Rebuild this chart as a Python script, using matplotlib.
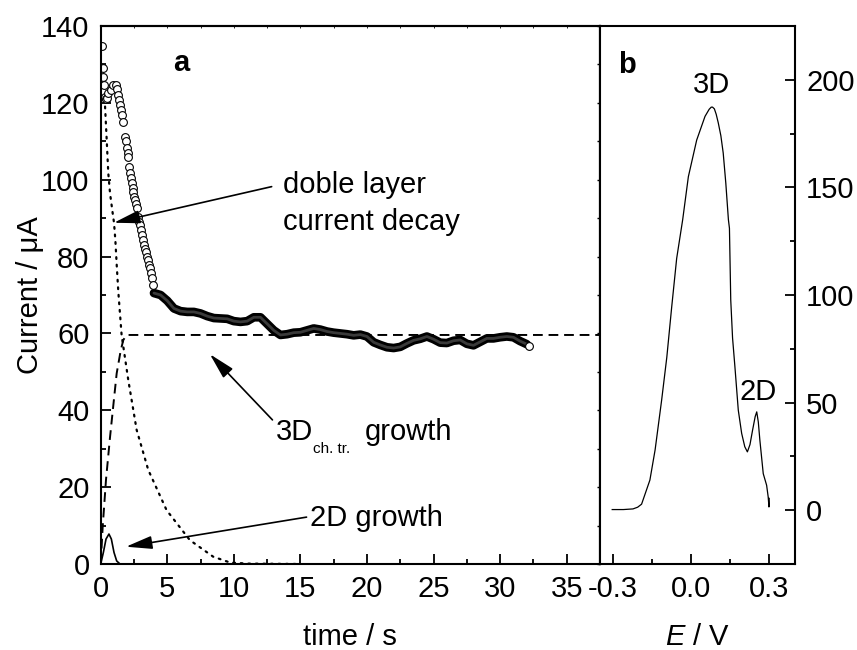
import matplotlib
matplotlib.use('Agg')
import matplotlib.pyplot as plt
from matplotlib.ticker import MultipleLocator, FixedLocator

plt.rcParams['font.family'] = ['Liberation Sans', 'DejaVu Sans']
plt.rcParams['axes.unicode_minus'] = False
plt.rcParams['mathtext.fontset'] = 'custom'
plt.rcParams['mathtext.it'] = 'Liberation Sans:italic'
plt.rcParams['mathtext.rm'] = 'Liberation Sans'
FS = 21

# ---------------- panel a data ----------------
# early (sparse) transient points, open circles
t_sparse = [0.08, 0.15, 0.2, 0.25, 0.32, 0.4, 0.5, 0.57, 0.75, 0.95, 1.15, 1.25, 1.32, 1.4,
            1.45, 1.52, 1.57, 1.65, 1.82, 1.87, 1.95, 2.02, 2.07, 2.15, 2.2, 2.27, 2.33,
            2.4, 2.45, 2.53, 2.58, 2.65, 2.75, 2.83, 2.9, 2.95, 3.03, 3.13, 3.2, 3.28,
            3.33, 3.4, 3.5, 3.57, 3.65, 3.7, 3.78, 3.83, 3.9]
i_sparse = [134.9, 129, 126.6, 124.6, 121.6, 121, 121.2, 122.5, 123.3, 124.6, 124.6, 123.5,
            122, 120.7, 119.4, 118.1, 116.8, 115.1, 111.2, 110, 108.2, 106.9, 106, 103.4,
            101.7, 100.4, 99.1, 97.8, 96.7, 95.6, 94.8, 93.7, 92.6, 90.4, 89.1, 88.2, 86.9,
            85.6, 84.3, 83, 82.1, 81.3, 80, 79.1, 77.8, 76.9, 75.6, 74.3, 72.6]
# dense part of the transient (markers overlap into a band)
t_dense = [4.0, 4.5, 5.0, 5.5, 6.0, 6.5, 7.0, 7.5, 8.0, 8.5, 9.0, 9.5, 10.0, 10.5, 11.0,
           11.5, 12.0, 12.5, 13.0, 13.5, 14.0, 14.5, 15.0, 15.5, 16.0, 16.5, 17.0, 17.5,
           18.0, 18.5, 19.0, 19.5, 20.0, 20.5, 21.0, 21.5, 22.0, 22.5, 23.0, 23.5, 24.0,
           24.5, 25.0, 25.5, 26.0, 26.5, 27.0, 27.5, 28.0, 28.5, 29.0, 29.5, 30.0, 30.5,
           31.0, 31.5, 32.0]
i_dense = [70.5, 70.0, 68.5, 66.5, 65.8, 65.6, 65.6, 65.2, 64.5, 64.0, 63.9, 63.8, 63.2,
           63.0, 63.2, 64.2, 64.2, 62.5, 60.8, 59.6, 59.8, 60.2, 60.3, 60.8, 61.3, 61.0,
           60.5, 60.2, 60.0, 59.8, 59.5, 59.7, 59.2, 57.7, 57.0, 56.4, 56.2, 56.5, 57.4,
           58.2, 58.6, 59.2, 58.5, 57.6, 57.5, 58.1, 58.3, 57.3, 56.9, 57.8, 58.7, 58.7,
           59.0, 59.2, 59.0, 58.0, 57.2]
t_last = [32.2]
i_last = [56.7]

# 3D charge-transfer growth model (dashed)
t_3d = [0.0, 0.15, 0.4, 0.7, 1.0, 1.2, 1.5, 1.7, 1.95, 37.5]
i_3d = [0.0, 9.7, 22.0, 33.0, 43.0, 49.6, 55.5, 58.3, 59.6, 59.6]

# double layer current decay (dotted)
t_dl = [0.3, 0.45, 0.57, 0.7, 0.9, 1.0, 1.1, 1.2, 1.32, 1.57, 2.07, 2.7, 3.57, 4.95, 6.7,
        8.45, 9.7, 11.0, 15.0]
i_dl = [121, 110.4, 101.7, 96.5, 91.3, 88.8, 84.3, 78.0, 71.0, 59.6, 47.9, 34.9, 24.5,
        14.0, 6.2, 1.9, 0.4, 0.1, 0.0]

# 2D growth (solid)
t_2d = [0.0, 0.2, 0.4, 0.62, 0.8, 1.0, 1.2, 1.45]
i_2d = [0.0, 3.0, 6.5, 7.8, 6.5, 3.0, 0.8, 0.0]

# ---------------- panel b data ----------------
E_b = [-0.303, -0.26, -0.223, -0.205, -0.19, -0.158, -0.138, -0.113, -0.093, -0.074,
       -0.055, -0.032, -0.010, 0.022, 0.054, 0.070, 0.078, 0.083, 0.090, 0.097, 0.105,
       0.115, 0.124, 0.134, 0.144, 0.148, 0.153, 0.160, 0.169, 0.182, 0.195, 0.207,
       0.217, 0.227, 0.237, 0.247, 0.253, 0.259, 0.265, 0.278, 0.291, 0.297, 0.300, 0.301]
j_b = [0.3, 0.3, 0.6, 1.4, 2.8, 14, 28, 51, 71, 94.6,
       117, 134.9, 155, 172, 183, 186.3, 187.3, 187.3, 186.5, 184, 180,
       174, 166, 152, 135, 131, 97.7, 80, 66.7, 46.5, 35.7, 29.5,
       27.1, 30.5, 37.2, 43.5, 45.7, 41, 32.6, 17, 11.6, 6.2, 1.5, 5.5]

a_xticks = [0, 5, 10, 15, 20, 25, 30, 35]
b_xticks = [-0.3, 0.0, 0.3]
b_yticks = [0, 50, 100, 150, 200]

# ---------------- figure ----------------
fig = plt.figure(figsize=(8.57, 6.5), dpi=100)
ax1 = fig.add_axes([0.1175, 0.1323, 0.5826, 0.8277])
ax2 = fig.add_axes([0.7001, 0.1323, 0.2275, 0.8277])

for ax in (ax1, ax2):
    for s in ax.spines.values():
        s.set_linewidth(1.5)

# panel a curves
ax1.plot(t_dl, i_dl, color='black', lw=1.6, linestyle=(0, (0.8, 2.6)), dash_capstyle='round')
ax1.plot(t_3d, i_3d, color='black', lw=1.4, linestyle=(0, (5, 3)))
ax1.plot(t_2d, i_2d, color='black', lw=1.2)
ax1.plot(t_dense, i_dense, '-', color='black', lw=6.2, solid_capstyle='round')
ax1.plot(t_dense, i_dense, '-', color='#3a3a3a', lw=2.0, solid_capstyle='round')
ax1.plot(t_sparse, i_sparse, 'o', ms=5.6, mfc='white', mec='black', mew=0.8)
ax1.plot(t_last, i_last, 'o', ms=5.6, mfc='white', mec='black', mew=0.8)

ax1.set_xlim(0, 37.5)
ax1.set_ylim(0, 140)
ax1.xaxis.set_major_locator(FixedLocator(a_xticks))
ax1.xaxis.set_minor_locator(MultipleLocator(2.5))
ax1.yaxis.set_major_locator(MultipleLocator(20))
ax1.yaxis.set_minor_locator(MultipleLocator(10))
ax1.tick_params(which='both', direction='in', labelsize=FS, top=False, right=False, width=1.3)
ax1.tick_params(which='major', length=7)
ax1.tick_params(which='minor', length=3.6)
ax1.tick_params(axis='y', pad=8)
ax1.tick_params(axis='x', pad=8)
sec_r = ax1.secondary_yaxis('right')
sec_r.yaxis.set_major_locator(MultipleLocator(10))
sec_r.tick_params(direction='in', length=2, width=1, labelright=False)
sec_r.spines['right'].set_linewidth(1.5)
sec_t = ax1.secondary_xaxis('top')
sec_t.xaxis.set_major_locator(MultipleLocator(2.5))
sec_t.tick_params(direction='in', length=1.5, width=0.6, labeltop=False)
sec_t.spines['top'].set_linewidth(1.5)

ax1.set_xlabel('time / s', fontsize=FS, labelpad=14)
ax1.set_ylabel('Current / \u03bcA', fontsize=FS, labelpad=-2)

ax1.text(6.08, 130.3, 'a', fontsize=FS, fontweight='bold', ha='center', va='center')

ax1.text(13.69, 96.5, 'doble layer', fontsize=FS, ha='left', va='baseline')
ax1.text(13.69, 86.9, 'current decay', fontsize=FS, ha='left', va='baseline')
ax1.text(13.16, 32.3, '3D', fontsize=FS, ha='left', va='baseline')
ax1.text(15.96, 29.0, 'ch. tr.', fontsize=11, ha='left', va='baseline')
ax1.text(19.84, 32.3, 'growth', fontsize=FS, ha='left', va='baseline')
ax1.text(15.7, 9.9, '2D growth', fontsize=FS, ha='left', va='baseline')

arrow = dict(arrowstyle='-|>,head_length=0.8,head_width=0.2', color='black', lw=1.2,
             mutation_scale=20, shrinkA=0, shrinkB=0)
ax1.annotate('', xy=(0.99, 88.8), xytext=(12.84, 98.2), arrowprops=arrow)
ax1.annotate('', xy=(8.2, 54.6), xytext=(12.9, 37.5), arrowprops=arrow)
ax1.annotate('', xy=(1.9, 4.5), xytext=(15.46, 12.2), arrowprops=arrow)

# panel b
ax2.plot(E_b, j_b, color='black', lw=0.9)
ax2.set_xlim(-0.35, 0.40)
ax2.set_ylim(-25, 225)
ax2.xaxis.set_major_locator(FixedLocator(b_xticks))
ax2.xaxis.set_minor_locator(MultipleLocator(0.15))
ax2.xaxis.set_major_formatter(plt.FuncFormatter(lambda v, p: '%.1f' % v))
ax2.yaxis.set_major_locator(FixedLocator(b_yticks))
ax2.yaxis.set_minor_locator(MultipleLocator(25))
ax2.tick_params(which='both', direction='in', labelsize=FS, width=1.3, top=False,
                left=False, labelleft=False, right=True, labelright=True)
ax2.tick_params(which='major', length=7)
ax2.tick_params(which='minor', length=3.6)
ax2.tick_params(axis='y', pad=8)
ax2.tick_params(axis='x', pad=8)
ax2.set_xlabel('$\\mathit{E}$ / V', fontsize=FS, labelpad=14)

ax2.text(0.08, 197.7, '3D', fontsize=FS, ha='center', va='center')
ax2.text(0.258, 55, '2D', fontsize=FS, ha='center', va='center')
ax2.text(-0.247, 207, 'b', fontsize=FS, fontweight='bold', ha='center', va='center')

fig.savefig('out.png', dpi=100)
